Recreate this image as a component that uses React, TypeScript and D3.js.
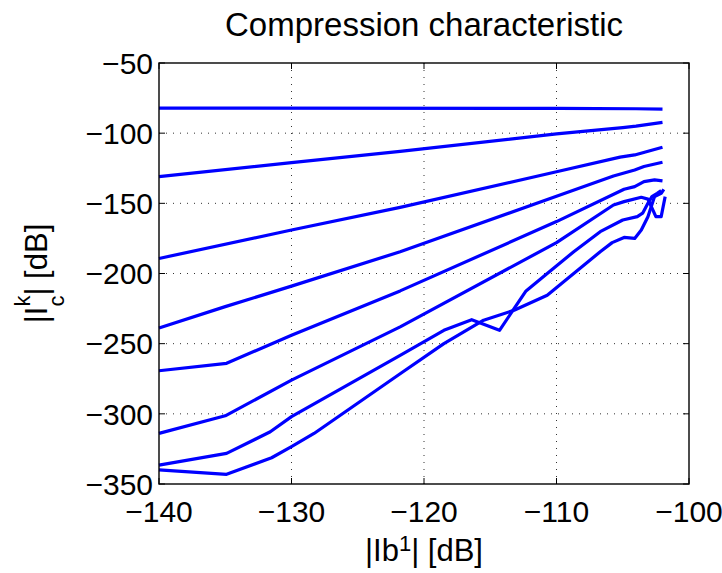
import React, { useEffect } from "react";
import * as d3 from "d3";

const W = 722;
const H = 573;
const M = { left: 159, top: 63, right: 722 - 689, bottom: 573 - 484 };

const titleText = "Compression characteristic";
const xTicks = [-140, -130, -120, -110, -100];
const yTicks = [-50, -100, -150, -200, -250, -300, -350];

const x1 = [-140, -110, -104, -102];
const y1 = [-82.2, -82.3, -82.6, -82.9];
const x2 = [-140, -130, -121.8, -110, -105, -104, -102];
const y2 = [-131, -121, -113, -100.5, -96, -95, -92.3];
const x3 = [-140, -130, -121.8, -110, -105.2, -104.1, -102];
const y3 = [-189.3, -169, -152.9, -127.5, -117.1, -115.5, -110];
const x4 = [-140, -135, -130, -121.8, -110, -105.7, -104.1, -103.4, -102];
const y4 = [-238.9, -223.6, -209, -184.5, -145, -130.5, -126.2, -123.8, -120.7];
const x5 = [-140, -134.9, -130, -121.8, -110, -104.9, -104.1, -103.4, -102.6, -102];
const y5 = [-269.3, -264, -244, -212.4, -163, -140, -138.1, -134.5, -133.3, -134];
const x6 = [-140, -135, -130, -121.8, -110, -105.7, -104.9, -103.6, -103.1, -102.5, -102.1, -101.8];
const y6 = [-313.9, -301.4, -276, -238, -178, -151.2, -148.8, -145.7, -147, -159.5, -159.5, -145.2];
const x7 = [-140, -134.9, -131.6, -130, -121.8, -118.5, -116.4, -114.3, -112.3, -110.7, -108.7, -106.7, -105, -103.9, -103.5, -103.1, -102.8, -102.4, -102.1];
const y7 = [-336.5, -328.2, -312.8, -302, -258.3, -240.5, -232.9, -240.5, -212.4, -200, -184.5, -170.2, -161.9, -159.5, -157, -150, -145.2, -142.9, -141];
const x8 = [-140, -134.9, -131.5, -130, -128.3, -121.8, -118.5, -115.5, -113.2, -110.7, -108.7, -106.7, -105.8, -104.9, -104.1, -103.6, -103.1, -102.6, -102.1, -101.9];
const y8 = [-340, -343.1, -331.3, -323.4, -314, -271.4, -250, -233.3, -226.2, -215.5, -200, -184.5, -178, -174.3, -175, -169, -159.5, -145.2, -142.9, -140];

const seriesX = [x1, x2, x3, x4, x5, x6, x7, x8];
const seriesY = [y1, y2, y3, y4, y5, y6, y7, y8];

const FONT = "'Liberation Sans', Arial, Helvetica, sans-serif";

export default function App() {
  useEffect(() => {
    document.body.style.margin = "0";
  }, []);

  const pw = W - M.left - M.right;
  const ph = H - M.top - M.bottom;
  const x = d3.scaleLinear().domain([-140, -100]).range([M.left, M.left + pw]);
  const y = d3.scaleLinear().domain([-350, -50]).range([M.top + ph, M.top]);
  const line = d3
    .line<[number, number]>()
    .x((d) => x(d[0]))
    .y((d) => y(d[1]));

  const fmt = (v: number) => (v < 0 ? "\u2212" + Math.abs(v) : String(v));
  const tickLen = 6;
  const gridColor = "#333";

  return (
    <svg width={W} height={H} style={{ display: "block", background: "#fff" }} fontFamily={FONT}>
      <rect x={0} y={0} width={W} height={H} fill="#fff" />
      {xTicks.slice(1, -1).map((t) => (
        <line key={"gx" + t} x1={x(t)} x2={x(t)} y1={M.top} y2={M.top + ph} stroke={gridColor} strokeWidth={1} strokeDasharray="1,6" />
      ))}
      {yTicks.slice(1, -1).map((t) => (
        <line key={"gy" + t} x1={M.left} x2={M.left + pw} y1={y(t)} y2={y(t)} stroke={gridColor} strokeWidth={1} strokeDasharray="1,6" />
      ))}
      {xTicks.map((t) => (
        <g key={"tx" + t}>
          <line x1={x(t)} x2={x(t)} y1={M.top + ph} y2={M.top + ph - tickLen} stroke="#000" strokeWidth={1} />
          <line x1={x(t)} x2={x(t)} y1={M.top} y2={M.top + tickLen} stroke="#000" strokeWidth={1} />
          <text x={x(t)} y={M.top + ph + 38} fontSize={30} textAnchor="middle" fill="#000">
            {fmt(t)}
          </text>
        </g>
      ))}
      {yTicks.map((t) => (
        <g key={"ty" + t}>
          <line x1={M.left} x2={M.left + tickLen} y1={y(t)} y2={y(t)} stroke="#000" strokeWidth={1} />
          <line x1={M.left + pw} x2={M.left + pw - tickLen} y1={y(t)} y2={y(t)} stroke="#000" strokeWidth={1} />
          <text x={M.left - 6} y={y(t)} dy="0.36em" fontSize={30} textAnchor="end" fill="#000">
            {fmt(t)}
          </text>
        </g>
      ))}
      {seriesX.map((xs, i) => (
        <path
          key={"s" + i}
          d={line(xs.map((v, j) => [v, seriesY[i][j]] as [number, number])) || ""}
          fill="none"
          stroke="#0000ff"
          strokeWidth={3.2}
          strokeLinejoin="round"
        />
      ))}
      <rect x={M.left} y={M.top} width={pw} height={ph} fill="none" stroke="#000" strokeWidth={1.4} />
      <text x={M.left + pw / 2} y={36} fontSize={33} textAnchor="middle" fill="#000">
        {titleText}
      </text>
      <text x={M.left + pw / 2} y={561} fontSize={31} textAnchor="middle" fill="#000">
        <tspan>|Ib</tspan>
        <tspan dy={-10} fontSize={22}>1</tspan>
        <tspan dy={10}>| [dB]</tspan>
      </text>
      <text transform={`translate(47,${M.top + ph / 2}) rotate(-90)`} fontSize={31} textAnchor="middle" fill="#000">
        <tspan>|I</tspan>
        <tspan dy={-17} fontSize={22}>k</tspan>
        <tspan dx={-11} dy={34} fontSize={22}>c</tspan>
        <tspan dy={-17}>| [dB]</tspan>
      </text>
    </svg>
  );
}
